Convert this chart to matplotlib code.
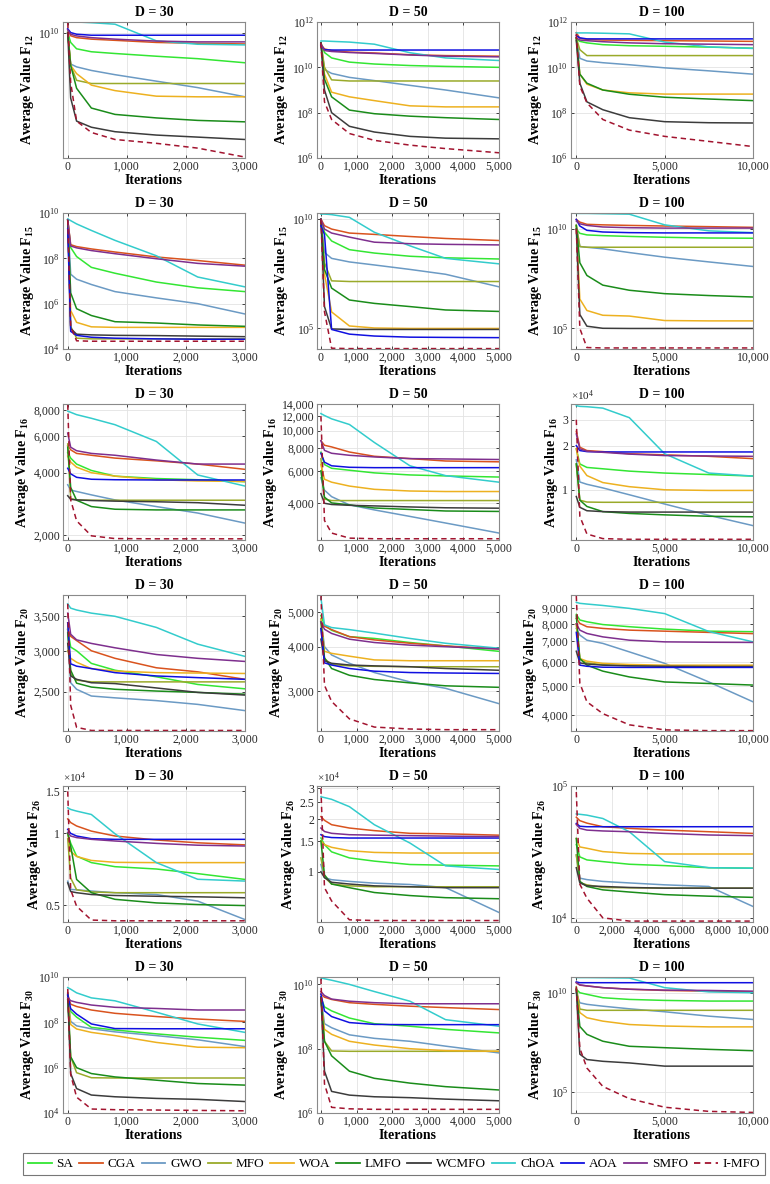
import numpy as np
import matplotlib.pyplot as plt
from matplotlib.ticker import FixedLocator, FuncFormatter, NullLocator
from matplotlib.lines import Line2D

plt.rcParams.update({
    "font.family": "Liberation Serif",
    "mathtext.fontset": "custom",
    "mathtext.rm": "Liberation Serif",
    "mathtext.bf": "Liberation Serif:bold",
    "mathtext.it": "Liberation Serif:italic",
})

ALGS = ["SA", "CGA", "GWO", "MFO", "WOA", "LMFO", "WCMFO", "ChOA", "AOA", "SMFO", "I-MFO"]
COLORS = ["#33e633", "#d9531e", "#6b9ac4", "#9aaa2a", "#edb120", "#1a8c1a",
          "#3c3c3c", "#33cccc", "#1010e0", "#7e2f8e", "#a2142f"]

IT30 = [0, 50, 150, 400, 800, 1500, 2200, 3000]
IT50 = [0, 100, 300, 800, 1500, 2500, 3500, 5000]
IT100 = [0, 200, 600, 1500, 3000, 5000, 7500, 10000]

F12_30 = {
    "SA": [1e10, 5e9, 3.2e9, 2.6e9, 2.3e9, 1.9e9, 1.6e9, 1.2e9],
    "CGA": [1.26e10, 8e9, 7e9, 6.3e9, 5.8e9, 5e9, 4.7e9, 4.5e9],
    "GWO": [1e10, 1.1e9, 9e8, 7e8, 5.2e8, 3.3e8, 2.1e8, 1.1e8],
    "MFO": [1e10, 1e9, 3.5e8, 2.8e8, 2.8e8, 2.8e8, 2.8e8, 2.8e8],
    "WOA": [1e10, 1e9, 5.6e8, 2.5e8, 1.7e8, 1.15e8, 1.1e8, 1.1e8],
    "LMFO": [1e10, 1e9, 2e8, 5e7, 3.2e7, 2.5e7, 2.1e7, 1.9e7],
    "WCMFO": [1e10, 1e8, 2e7, 1.3e7, 9.5e6, 7.5e6, 6.5e6, 5.5e6],
    "ChOA": [2.1e10, 2.1e10, 2.1e10, 2.0e10, 1.8e10, 5.6e9, 4.4e9, 4.2e9],
    "AOA": [1.3e10, 1e10, 8.9e9, 8.3e9, 8.3e9, 8.3e9, 8.3e9, 8.3e9],
    "SMFO": [1.2e10, 8.9e9, 7.9e9, 7e9, 6.3e9, 5.5e9, 5.2e9, 5.2e9],
    "I-MFO": [2e10, 3e8, 2e7, 9e6, 5.5e6, 4.2e6, 3e6, 1.6e6],
}
F12_50 = {
    "SA": [1.2e11, 4.5e10, 2.6e10, 1.7e10, 1.4e10, 1.2e10, 1.1e10, 1e10],
    "CGA": [1e11, 6.5e10, 5.5e10, 4.7e10, 4.3e10, 3.6e10, 3.3e10, 3.1e10],
    "GWO": [1.2e11, 8e9, 5.4e9, 3.6e9, 2.6e9, 1.6e9, 1e9, 4.5e8],
    "MFO": [1.2e11, 1e10, 2.8e9, 2.5e9, 2.5e9, 2.5e9, 2.5e9, 2.5e9],
    "WOA": [1.2e11, 5e9, 8e8, 5e8, 3.4e8, 2e8, 1.8e8, 1.8e8],
    "LMFO": [1.2e11, 3e9, 5e8, 1.3e8, 9e7, 7e7, 6e7, 5e7],
    "WCMFO": [1.2e11, 1e9, 1e8, 2.5e7, 1.4e7, 9e6, 7.5e6, 7e6],
    "ChOA": [1.45e11, 1.45e11, 1.4e11, 1.3e11, 1.05e11, 4.4e10, 2.6e10, 2e10],
    "AOA": [9e10, 6e10, 5.8e10, 5.8e10, 5.8e10, 5.8e10, 5.8e10, 5.8e10],
    "SMFO": [1.1e11, 5.5e10, 5e10, 4.5e10, 4.1e10, 3.5e10, 3.1e10, 2.9e10],
    "I-MFO": [1.2e11, 3e8, 5e7, 1.2e7, 6e6, 3.7e6, 2.6e6, 1.7e6],
}
F12_100 = {
    "SA": [1.8e11, 1.4e11, 1.2e11, 1e11, 9e10, 8.5e10, 7.8e10, 7e10],
    "CGA": [3.4e11, 1.9e11, 1.7e11, 1.6e11, 1.55e11, 1.5e11, 1.45e11, 1.4e11],
    "GWO": [2e11, 2.5e10, 1.9e10, 1.6e10, 1.3e10, 9.5e9, 7e9, 5e9],
    "MFO": [2e11, 6e10, 3.3e10, 3.3e10, 3.3e10, 3.3e10, 3.3e10, 3.3e10],
    "WOA": [2e11, 5e9, 1.8e9, 1e9, 7.5e8, 6.6e8, 6.6e8, 6.6e8],
    "LMFO": [2e11, 5e9, 2e9, 1e9, 6.5e8, 4.8e8, 4e8, 3.4e8],
    "WCMFO": [1.5e11, 2e9, 3e8, 1.35e8, 6e7, 4e7, 3.6e7, 3.5e7],
    "ChOA": [3.3e11, 3.3e11, 3.3e11, 3.2e11, 3e11, 1.3e11, 8e10, 6.8e10],
    "AOA": [2.5e11, 2e11, 1.8e11, 1.8e11, 1.8e11, 1.8e11, 1.8e11, 1.8e11],
    "SMFO": [2e11, 1.6e11, 1.5e11, 1.35e11, 1.2e11, 1.1e11, 1.05e11, 1e11],
    "I-MFO": [3e11, 1.5e9, 2.7e8, 5e7, 1.7e7, 9e6, 5.4e6, 3.2e6],
}
F15_30 = {
    "SA": [5e9, 3e8, 1.2e8, 4e7, 2.2e7, 9e6, 5e6, 3.4e6],
    "CGA": [5e9, 4e8, 3.3e8, 2.6e8, 1.9e8, 1.15e8, 8e7, 5e7],
    "GWO": [5e9, 2e7, 1.2e7, 7e6, 3.4e6, 1.8e6, 1e6, 3.5e5],
    "MFO": [5e9, 1e5, 3e4, 2.8e4, 2.8e4, 2.8e4, 2.8e4, 2.8e4],
    "WOA": [5e9, 5e5, 1.5e5, 9.5e4, 9e4, 9e4, 9e4, 9e4],
    "LMFO": [5e9, 3e6, 6e5, 3e5, 1.6e5, 1.4e5, 1.15e5, 1e5],
    "WCMFO": [5e9, 8e4, 4.5e4, 4.2e4, 4e4, 3.9e4, 3.7e4, 3.5e4],
    "ChOA": [5.5e9, 4.6e9, 3.3e9, 1.7e9, 6.2e8, 1.3e8, 1.5e7, 5.5e6],
    "AOA": [2e9, 6e4, 4e4, 3.3e4, 3e4, 2.8e4, 2.7e4, 2.7e4],
    "SMFO": [5e9, 3.5e8, 2.9e8, 2.2e8, 1.6e8, 9.6e7, 6e7, 4.5e7],
    "I-MFO": [5e9, 1e5, 2.3e4, 2.2e4, 2.2e4, 2.2e4, 2.2e4, 2.2e4],
}
F15_50 = {
    "SA": [1e10, 2.5e9, 1e9, 4e8, 2.8e8, 2e8, 1.7e8, 1.5e8],
    "CGA": [1e10, 5e9, 3.5e9, 2.3e9, 2e9, 1.6e9, 1.3e9, 1.05e9],
    "GWO": [1e10, 3e8, 1.6e8, 1.1e8, 8e7, 5e7, 3e7, 8e6],
    "MFO": [1e10, 1e8, 1.5e7, 1.4e7, 1.4e7, 1.4e7, 1.4e7, 1.4e7],
    "WOA": [1e10, 3e7, 5.7e5, 1.3e5, 1.05e5, 1e5, 1e5, 1e5],
    "LMFO": [1e10, 5e7, 7e6, 2e6, 1.4e6, 1e6, 7e5, 6e5],
    "WCMFO": [1e10, 1e6, 9.5e4, 9e4, 9e4, 9e4, 9e4, 9e4],
    "ChOA": [1.7e10, 1.7e10, 1.6e10, 1.2e10, 2.5e9, 6e8, 1.6e8, 9e7],
    "AOA": [5e9, 2e9, 9e4, 5.5e4, 4.5e4, 4e4, 3.9e4, 3.8e4],
    "SMFO": [1e10, 3.5e9, 2.3e9, 1.5e9, 8.8e8, 7.5e8, 7e8, 6.6e8],
    "I-MFO": [1e10, 5.8e5, 1.25e4, 1.2e4, 1.2e4, 1.2e4, 1.2e4, 1.2e4],
}
F15_100 = {
    "SA": [1e10, 6e9, 5e9, 4.6e9, 4.2e9, 3.8e9, 3.5e9, 3.4e9],
    "CGA": [3e10, 2.2e10, 1.7e10, 1.6e10, 1.5e10, 1.4e10, 1.3e10, 1.2e10],
    "GWO": [1.5e10, 1.3e9, 1.2e9, 1e9, 6.5e8, 3.8e8, 2.2e8, 1.3e8],
    "MFO": [1.5e10, 1.3e9, 1.2e9, 1.2e9, 1.2e9, 1.2e9, 1.2e9, 1.2e9],
    "WOA": [1.5e10, 3e6, 8e5, 4.6e5, 4.2e5, 2.5e5, 2.4e5, 2.4e5],
    "LMFO": [1.5e10, 2e8, 4.6e7, 1.5e7, 8.3e6, 5.6e6, 4.5e6, 3.8e6],
    "WCMFO": [1e10, 5e5, 1.3e5, 1.02e5, 1e5, 1e5, 1e5, 1e5],
    "ChOA": [6e10, 6e10, 6e10, 5.8e10, 5.5e10, 1.6e10, 8e9, 6.5e9],
    "AOA": [3e10, 1.4e10, 8.5e9, 7e9, 6.5e9, 6.3e9, 6.3e9, 6.3e9],
    "SMFO": [2.5e10, 1.8e10, 1.5e10, 1.25e10, 1.15e10, 1.1e10, 1.1e10, 1.1e10],
    "I-MFO": [1e10, 1e5, 1.1e4, 1.05e4, 1.05e4, 1.05e4, 1.05e4, 1.05e4],
}
F16_30 = {
    "SA": [5000, 4700, 4400, 4100, 3850, 3750, 3700, 3620],
    "CGA": [5400, 5150, 4950, 4850, 4700, 4560, 4400, 4150],
    "GWO": [3500, 3300, 3250, 3130, 2960, 2750, 2560, 2290],
    "MFO": [5500, 3000, 2960, 2950, 2950, 2950, 2950, 2950],
    "WOA": [4800, 4500, 4250, 4000, 3850, 3700, 3650, 3630],
    "LMFO": [5300, 3400, 2950, 2750, 2670, 2650, 2650, 2650],
    "WCMFO": [3100, 2980, 2960, 2940, 2920, 2900, 2870, 2790],
    "ChOA": [7900, 7800, 7600, 7300, 6800, 5650, 3900, 3450],
    "AOA": [4200, 3950, 3800, 3720, 3700, 3690, 3690, 3690],
    "SMFO": [6200, 5300, 5100, 4950, 4850, 4600, 4400, 4400],
    "I-MFO": [8500, 2960, 2350, 1990, 1930, 1925, 1925, 1925],
}
F16_50 = {
    "SA": [7600, 6500, 6200, 6050, 5850, 5700, 5630, 5550],
    "CGA": [8800, 8300, 8130, 7620, 7220, 7010, 6800, 6730],
    "GWO": [5500, 4700, 4330, 3900, 3660, 3370, 3100, 2730],
    "MFO": [7000, 4200, 4120, 4120, 4120, 4120, 4120, 4120],
    "WOA": [6500, 5400, 5200, 4950, 4750, 4650, 4620, 4620],
    "LMFO": [6000, 4300, 4000, 3900, 3750, 3680, 3610, 3590],
    "WCMFO": [4500, 3980, 3920, 3880, 3850, 3800, 3760, 3740],
    "ChOA": [12400, 12100, 11600, 10800, 8600, 6400, 5650, 5200],
    "AOA": [7500, 6700, 6400, 6280, 6250, 6250, 6250, 6250],
    "SMFO": [8800, 7780, 7500, 7310, 7160, 7010, 6980, 6930],
    "I-MFO": [12000, 3200, 2730, 2560, 2540, 2540, 2540, 2540],
}
F16_100 = {
    "SA": [19000, 15000, 14200, 13900, 13400, 13000, 12700, 12400],
    "CGA": [25000, 19500, 18500, 18200, 17600, 17300, 16900, 16300],
    "GWO": [16000, 11300, 10900, 10300, 9250, 8000, 6700, 5700],
    "MFO": [15000, 8500, 8250, 8220, 8220, 8220, 8220, 8220],
    "WOA": [19000, 14500, 12500, 11200, 10500, 10000, 9900, 9900],
    "LMFO": [15000, 8500, 7700, 7100, 6900, 6750, 6600, 6550],
    "WCMFO": [9000, 7600, 7200, 7100, 7050, 7050, 7050, 7050],
    "ChOA": [37400, 37000, 36800, 36000, 31000, 17600, 13000, 12400],
    "AOA": [20000, 18500, 18200, 18100, 18100, 18100, 18100, 18100],
    "SMFO": [24000, 19000, 18300, 18000, 17500, 17100, 17000, 16900],
    "I-MFO": [30000, 6600, 5000, 4650, 4600, 4600, 4600, 4600],
}
F20_30 = {
    "SA": [3300, 3050, 3000, 2835, 2750, 2670, 2580, 2530],
    "CGA": [3300, 3200, 3140, 3000, 2900, 2780, 2730, 2640],
    "GWO": [3300, 2600, 2525, 2450, 2430, 2400, 2360, 2295],
    "MFO": [3400, 2700, 2630, 2610, 2610, 2610, 2610, 2610],
    "WOA": [3000, 2900, 2850, 2770, 2740, 2720, 2715, 2710],
    "LMFO": [3250, 2750, 2595, 2550, 2525, 2505, 2490, 2470],
    "WCMFO": [3100, 2680, 2640, 2600, 2590, 2540, 2490, 2460],
    "ChOA": [3700, 3630, 3600, 3550, 3500, 3330, 3090, 2925],
    "AOA": [3400, 2830, 2800, 2770, 2720, 2680, 2660, 2640],
    "SMFO": [3550, 3230, 3150, 3100, 3040, 2950, 2900, 2860],
    "I-MFO": [3700, 2350, 2130, 2100, 2100, 2100, 2100, 2100],
}
F20_50 = {
    "SA": [4900, 4600, 4450, 4270, 4220, 4110, 4020, 3880],
    "CGA": [4700, 4570, 4470, 4270, 4180, 4090, 4020, 3940],
    "GWO": [4800, 4000, 3790, 3590, 3380, 3180, 3050, 2760],
    "MFO": [4500, 3700, 3560, 3530, 3520, 3510, 3510, 3510],
    "WOA": [4800, 3880, 3830, 3760, 3670, 3650, 3650, 3650],
    "LMFO": [4700, 3720, 3470, 3320, 3230, 3160, 3100, 3070],
    "WCMFO": [4200, 3650, 3590, 3550, 3530, 3510, 3470, 3430],
    "ChOA": [5500, 4610, 4530, 4470, 4370, 4220, 4090, 3960],
    "AOA": [4500, 3600, 3550, 3470, 3410, 3380, 3370, 3360],
    "SMFO": [4700, 4480, 4360, 4200, 4110, 4040, 4000, 3940],
    "I-MFO": [5600, 3110, 2800, 2500, 2370, 2340, 2330, 2330],
}
F20_100 = {
    "SA": [8600, 8240, 8130, 7960, 7830, 7690, 7570, 7540],
    "CGA": [8340, 8030, 7830, 7730, 7630, 7570, 7500, 7430],
    "GWO": [7730, 7350, 7070, 6900, 6470, 5930, 5150, 4430],
    "MFO": [8000, 6100, 5950, 5870, 5820, 5820, 5810, 5810],
    "WOA": [8000, 6150, 6030, 5930, 5880, 5850, 5850, 5850],
    "LMFO": [8500, 6150, 5850, 5590, 5350, 5150, 5090, 5030],
    "WCMFO": [6500, 5950, 5900, 5850, 5820, 5800, 5790, 5790],
    "ChOA": [9420, 9350, 9300, 9200, 9000, 8650, 7550, 6980],
    "AOA": [7500, 5850, 5800, 5760, 5750, 5750, 5750, 5750],
    "SMFO": [8000, 7630, 7440, 7250, 7070, 6980, 6960, 6950],
    "I-MFO": [9900, 5100, 4430, 4050, 3720, 3580, 3560, 3560],
}
F26_30 = {
    "SA": [10000, 9100, 8030, 7540, 7250, 7090, 6780, 6410],
    "CGA": [11500, 11100, 10740, 10220, 9750, 9380, 9130, 8950],
    "GWO": [6300, 5820, 5800, 5730, 5640, 5540, 5200, 4350],
    "MFO": [9500, 6500, 5800, 5680, 5640, 5640, 5640, 5640],
    "WOA": [10000, 8400, 8000, 7700, 7560, 7540, 7540, 7540],
    "LMFO": [10000, 8850, 6410, 5640, 5290, 5110, 5030, 4980],
    "WCMFO": [6200, 5700, 5640, 5540, 5490, 5450, 5420, 5370],
    "ChOA": [12800, 12600, 12400, 12000, 9960, 7540, 6420, 6310],
    "AOA": [10400, 10000, 9750, 9500, 9440, 9440, 9440, 9440],
    "SMFO": [10100, 9750, 9600, 9440, 9290, 9080, 8920, 8850],
    "I-MFO": [15000, 5800, 4950, 4330, 4300, 4300, 4300, 4300],
}
F26_50 = {
    "SA": [15600, 14300, 13000, 12000, 11500, 11000, 10900, 10800],
    "CGA": [20700, 19700, 18600, 17800, 17200, 16600, 16500, 16200],
    "GWO": [11000, 9250, 9000, 8800, 8600, 8450, 8110, 5840],
    "MFO": [12000, 9300, 8500, 8300, 8200, 8200, 8200, 8200],
    "WOA": [15000, 14300, 13800, 13200, 12900, 12800, 12800, 12800],
    "LMFO": [15000, 9600, 8500, 8100, 7600, 7300, 7100, 7000],
    "WCMFO": [10000, 9250, 8700, 8500, 8300, 8200, 8100, 8100],
    "ChOA": [26900, 26600, 26000, 23600, 18600, 14600, 10800, 10300],
    "AOA": [16300, 15900, 15700, 15600, 15600, 15600, 15600, 15600],
    "SMFO": [17800, 17000, 16600, 16300, 16200, 16100, 16000, 15900],
    "I-MFO": [30000, 8100, 6800, 5300, 5250, 5250, 5250, 5250],
}
F26_100 = {
    "SA": [36000, 29000, 27500, 26700, 25500, 24900, 24000, 23800],
    "CGA": [58000, 54600, 52300, 49100, 47700, 46300, 45000, 43700],
    "GWO": [30000, 20000, 19500, 18900, 18400, 17800, 17300, 12200],
    "MFO": [30000, 18500, 17800, 17000, 16900, 16800, 16800, 16800],
    "WOA": [40000, 34500, 33700, 31800, 30800, 30500, 30500, 30500],
    "LMFO": [40000, 18900, 17300, 16300, 15700, 15000, 14600, 14300],
    "WCMFO": [24000, 18400, 17500, 17300, 17000, 16800, 16800, 16800],
    "ChOA": [61400, 61000, 60100, 56700, 45000, 26700, 24000, 23800],
    "AOA": [52000, 49500, 49100, 49100, 49100, 49100, 49100, 49100],
    "SMFO": [51000, 47700, 46300, 45600, 45000, 43700, 42500, 42000],
    "I-MFO": [90000, 18000, 14100, 10000, 9450, 9450, 9450, 9450],
}
F30_30 = {
    "SA": [1e9, 3e8, 1.7e8, 6e7, 4.6e7, 3.1e7, 2.2e7, 1.6e7],
    "CGA": [1.7e9, 6.3e8, 5e8, 3.5e8, 2.5e8, 1.8e8, 1.4e8, 1.1e8],
    "GWO": [1.5e9, 1.1e8, 7e7, 5.2e7, 3.8e7, 2.6e7, 1.7e7, 8.5e6],
    "MFO": [1e9, 3e6, 6e5, 3.6e5, 3.5e5, 3.5e5, 3.5e5, 3.5e5],
    "WOA": [1.5e9, 8e7, 5.1e7, 3.6e7, 2.6e7, 1.3e7, 8e6, 7.6e6],
    "LMFO": [1.5e9, 3e6, 1e6, 5.5e5, 3.9e5, 2.8e5, 2e5, 1.7e5],
    "WCMFO": [2e9, 5.5e5, 1.2e5, 6.2e4, 5.2e4, 4.4e4, 4e4, 3.2e4],
    "ChOA": [3.4e9, 2.9e9, 2e9, 1.2e9, 8.9e8, 2.8e8, 8.5e7, 3.6e7],
    "AOA": [1.7e9, 4e8, 2.3e8, 8.5e7, 5.3e7, 5.2e7, 5.2e7, 5.2e7],
    "SMFO": [1.2e9, 9e8, 7.6e8, 5.8e8, 4.6e8, 4.1e8, 3.5e8, 3.5e8],
    "I-MFO": [3e9, 5e5, 5e4, 1.5e4, 1.4e4, 1.35e4, 1.3e4, 1.25e4],
}
F30_50 = {
    "SA": [4e9, 2e9, 1.5e9, 9e8, 6e8, 5e8, 4e8, 3.1e8],
    "CGA": [5e9, 4e9, 3.4e9, 2.7e9, 2.4e9, 2.1e9, 1.9e9, 1.65e9],
    "GWO": [4e9, 6e8, 4.5e8, 2.7e8, 2.1e8, 1.7e8, 1.2e8, 7.4e7],
    "MFO": [4e9, 1.7e8, 8.5e7, 8.3e7, 8.3e7, 8.3e7, 8.3e7, 8.3e7],
    "WOA": [3e9, 4e8, 2.8e8, 1.7e8, 1.3e8, 1e8, 8.7e7, 8.3e7],
    "LMFO": [4e9, 1.7e8, 6e7, 2e7, 1.2e7, 8.5e6, 6.6e6, 5.2e6],
    "WCMFO": [4e9, 2e7, 4.7e6, 3.6e6, 3.2e6, 3e6, 2.7e6, 2.4e6],
    "ChOA": [1.6e10, 1.5e10, 1.35e10, 1e10, 6e9, 3e9, 8e8, 5e8],
    "AOA": [5e9, 1.5e9, 1e9, 6.5e8, 5.7e8, 5.6e8, 5.6e8, 5.6e8],
    "SMFO": [6e9, 4.5e9, 3.5e9, 3e9, 2.7e9, 2.5e9, 2.5e9, 2.5e9],
    "I-MFO": [1.5e10, 8e6, 1.5e6, 1.35e6, 1.3e6, 1.3e6, 1.3e6, 1.3e6],
}
F30_100 = {
    "SA": [1.5e10, 1e10, 8.3e9, 5.6e9, 4.6e9, 4.1e9, 3.8e9, 3.8e9],
    "CGA": [3.2e10, 2.4e10, 2.2e10, 1.8e10, 1.5e10, 1.3e10, 1.2e10, 1.1e10],
    "GWO": [1e10, 3.1e9, 2.6e9, 2.1e9, 1.55e9, 1.1e9, 6.6e8, 4.5e8],
    "MFO": [2e10, 1.5e9, 1.3e9, 1.3e9, 1.3e9, 1.3e9, 1.3e9, 1.3e9],
    "WOA": [1.5e10, 1e9, 5.5e8, 3.7e8, 2.5e8, 2.1e8, 1.9e8, 1.9e8],
    "LMFO": [1.5e10, 2e8, 8e7, 3.6e7, 2e7, 1.7e7, 1.4e7, 1.2e7],
    "WCMFO": [1.5e10, 8e6, 4.3e6, 3.5e6, 2.9e6, 2e6, 2e6, 2e6],
    "ChOA": [5.8e10, 5.8e10, 5.8e10, 5.7e10, 5.5e10, 1.8e10, 1.1e10, 1e10],
    "AOA": [3.5e10, 3.2e10, 3.2e10, 3.2e10, 3.2e10, 3.2e10, 3.2e10, 3.2e10],
    "SMFO": [3.2e10, 2.5e10, 2.2e10, 1.8e10, 1.5e10, 1.35e10, 1.3e10, 1.2e10],
    "I-MFO": [2e10, 1.6e7, 1.6e6, 1.9e5, 4.6e4, 1.7e4, 1.05e4, 9.3e3],
}

# (function, D, data, iterations, ylim, yticks, label style)
PANELS = [
    ("12", 30, F12_30, IT30, (1.5e6, 2.1e10), [1e10], "pow"),
    ("12", 50, F12_50, IT50, (1e6, 1e12), [1e6, 1e8, 1e10, 1e12], "pow"),
    ("12", 100, F12_100, IT100, (1e6, 1e12), [1e6, 1e8, 1e10, 1e12], "pow"),
    ("15", 30, F15_30, IT30, (1e4, 1e10), [1e4, 1e6, 1e8, 1e10], "pow"),
    ("15", 50, F15_50, IT50, (1.15e4, 1.9e10), [1e5, 1e10], "pow"),
    ("15", 100, F15_100, IT100, (9.3e3, 6.3e10), [1e5, 1e10], "pow"),
    ("16", 30, F16_30, IT30, (1900, 8550), [2000, 4000, 6000, 8000], "comma"),
    ("16", 50, F16_50, IT50, (2500, 14000), [4000, 6000, 8000, 10000, 12000, 14000], "comma"),
    ("16", 100, F16_100, IT100, (4550, 38400), [1e4, 2e4, 3e4], "e4"),
    ("20", 30, F20_30, IT30, (2095, 3850), [2500, 3000, 3500], "comma"),
    ("20", 50, F20_50, IT50, (2310, 5600), [3000, 4000, 5000], "comma"),
    ("20", 100, F20_100, IT100, (3550, 9960), [4000, 5000, 6000, 7000, 8000, 9000], "comma"),
    ("26", 30, F26_30, IT30, (4250, 15800), [5000, 10000, 15000], "e4"),
    ("26", 50, F26_50, IT50, (5150, 31000), [10000, 15000, 20000, 25000, 30000], "e4"),
    ("26", 100, F26_100, IT100, (9300, 1.0e5), [1e4, 1e5], "pow"),
    ("30", 30, F30_30, IT30, (1e4, 1e10), [1e4, 1e6, 1e8, 1e10], "pow"),
    ("30", 50, F30_50, IT50, (1e6, 1.7e10), [1e6, 1e8, 1e10], "pow"),
    ("30", 100, F30_100, IT100, (8700, 6.2e10), [1e5, 1e10], "pow"),
]

XLIM = {30: (-80, 3000), 50: (-110, 5000), 100: (-300, 10000)}
XTICKS = {30: [0, 1000, 2000, 3000], 50: [0, 1000, 2000, 3000, 4000, 5000],
          100: [0, 5000, 10000]}

W, H = 770, 1184
fig = plt.figure(figsize=(W / 100, H / 100), dpi=100)

col_left = [63, 317, 571]
ax_w, ax_h = 182, 136


def pow_fmt(v, p):
    return "$10^{%d}$" % int(round(np.log10(v)))


def comma_fmt(v, p):
    return f"{int(round(v)):,}"


def e4_fmt(v, p):
    return f"{v / 1e4:g}"


FMTS = {"pow": pow_fmt, "comma": comma_fmt, "e4": e4_fmt}

for i, (fn, d, data, its, ylim, yt, style) in enumerate(PANELS):
    r, c = divmod(i, 3)
    top = 22 + 191 * r
    ax = fig.add_axes([col_left[c] / W, 1 - (top + ax_h) / H, ax_w / W, ax_h / H])
    for alg, col in zip(ALGS, COLORS):
        if alg == "I-MFO":
            ax.plot(its, data[alg], color=col, lw=1.1, ls=(0, (3.5, 2.5)))
        else:
            ax.plot(its, data[alg], color=col, lw=1.1)
    ax.set_yscale("log")
    ax.set_ylim(*ylim)
    ax.set_xlim(*XLIM[d])
    ax.yaxis.set_major_locator(FixedLocator(yt))
    ax.yaxis.set_minor_locator(NullLocator())
    ax.yaxis.set_major_formatter(FuncFormatter(FMTS[style]))
    xt = XTICKS[d]
    if fn == "26" and d == 100:
        xt = [0, 2000, 4000, 6000, 8000, 10000]
    ax.xaxis.set_major_locator(FixedLocator(xt))
    ax.xaxis.set_major_formatter(FuncFormatter(comma_fmt))
    ax.grid(True, color="#e3e3e3", lw=0.6)
    ax.set_axisbelow(True)
    for s in ax.spines.values():
        s.set_color("#8a8a8a")
        s.set_linewidth(0.8)
    ax.tick_params(direction="in", length=2.5, width=0.6, colors="#262626",
                   labelsize=8.5, top=True, right=True, pad=2)
    ax.set_title(f"D = {d}", fontsize=10, fontweight="bold", pad=4)
    ax.set_xlabel("Iterations", fontsize=10, fontweight="bold", labelpad=1)
    ax.set_ylabel("Average Value F$_{\\mathbf{%s}}$" % fn, fontsize=10,
                  fontweight="bold", labelpad=2)
    if style == "e4":
        ax.text(0.0, 1.01, "$\\times10^{4}$", transform=ax.transAxes,
                fontsize=8, color="#262626", va="bottom", ha="left")

handles = [Line2D([], [], color=col, lw=1.3, ls=(0, (3.5, 2.5)) if a == "I-MFO" else "-")
           for a, col in zip(ALGS, COLORS)]
leg = fig.legend(handles, ALGS, loc="center", bbox_to_anchor=(394 / W, 1 - 1164 / H),
                 ncol=11, fontsize=9.5, frameon=True, fancybox=False,
                 edgecolor="#555555", handlelength=1.8, handletextpad=0.35,
                 columnspacing=0.45, borderpad=0.35)
leg.get_frame().set_linewidth(0.8)

fig.savefig("out.png", dpi=100)
